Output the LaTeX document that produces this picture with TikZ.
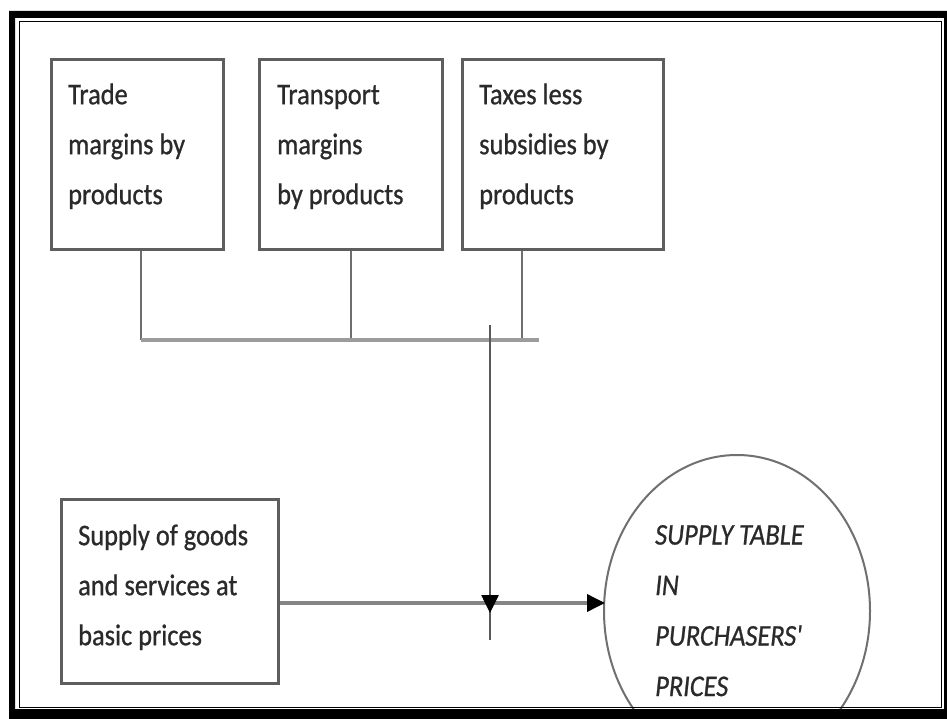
\documentclass[tikz,border=0pt]{standalone}
\usepackage{fontspec}
\newfontfamily\cfont[FakeStretch=0.88,FakeBold=0.8]{Carlito}
\usetikzlibrary{arrows.meta,shapes.geometric,calc}
\definecolor{boxc}{HTML}{5E5E5E}
\definecolor{textc}{HTML}{2A2A2A}
\definecolor{connc}{HTML}{6E6E6E}
\definecolor{busc}{HTML}{9C9C9C}
\definecolor{ellc}{HTML}{707070}
\begin{document}
\begin{tikzpicture}[x=1pt,y=-1pt,
  boxnode/.style={draw=boxc, line width=2.8pt, rectangle, inner sep=0pt, anchor=north west},
  txt/.style={font=\cfont\fontsize{30}{50}\selectfont, text=textc, align=left, inner sep=0pt, anchor=north west},
  itxt/.style={txt, font=\cfont\itshape\fontsize{30}{50.5}\selectfont},
  conn/.style={draw=connc, line width=2.4pt},
  bus/.style={draw=busc, line width=4pt},
  vline/.style={draw=black!65, line width=2.6pt},
  hline/.style={draw=black!48, line width=3.6pt},
  tip/.style={-{Triangle[length=18pt,width=17pt,color=black]}}
]
\useasboundingbox (0,0) rectangle (947,719);
\clip (0,0) rectangle (947,719);
\fill[white] (0,0) rectangle (947,719);

% result ellipse
\node[draw=ellc, line width=2pt, ellipse, minimum width=266pt, minimum height=312pt, inner sep=0pt] (e) at (737,611) {};

% boxes
\node[boxnode, minimum width=172pt, minimum height=190pt] (b1) at (50,58) {};
\node[boxnode, minimum width=183pt, minimum height=190pt] (b2) at (258,58) {};
\node[boxnode, minimum width=201pt, minimum height=190pt] (b3) at (461,58) {};
\node[boxnode, minimum width=217pt, minimum height=184pt] (sup) at (60,498) {};

% texts
\node[txt] (t1) at (68,69) {\strut Trade\\margins by\\products};
\node[txt] (t2) at (277,69) {\strut Transport\\margins\\by products};
\node[txt] (t3) at (479,69) {\strut Taxes less\\subsidies by\\products};
\node[txt] (t4) at (78,510) {\strut Supply of goods\\and services at\\basic prices};
\node[itxt] (t5) at (655,509) {\strut SUPPLY TABLE\\IN\\PURCHASERS'\\PRICES};

% connectors
\coordinate (j1) at (141,340);
\coordinate (j3) at (522,340);
\coordinate (jend) at (539,340);
\draw[conn] (b1.south -| j1) -- (j1);
\draw[conn] (b2.south) -- (b2.south |- j1);
\draw[conn] (b3.south -| j3) -- (j3);
\draw[bus] (j1) -- (jend);

\coordinate (vtop) at (490,325);
\coordinate (vtip) at (490,613);
\coordinate (vend) at (490,640);
\coordinate (hin) at (605,603);
\draw[hline, tip] (sup.east |- hin) -- (hin);
\draw[vline] (vtop) -- (vend);
\draw[vline, tip] (vtop) -- (vtip);

% frame
\fill[black, even odd rule] (9,11) rectangle (960,730) (15,18) rectangle (944,709);
\draw[black, line width=1.6pt] (19.5,21.5) rectangle (941.5,707.5);
\end{tikzpicture}
\end{document}
